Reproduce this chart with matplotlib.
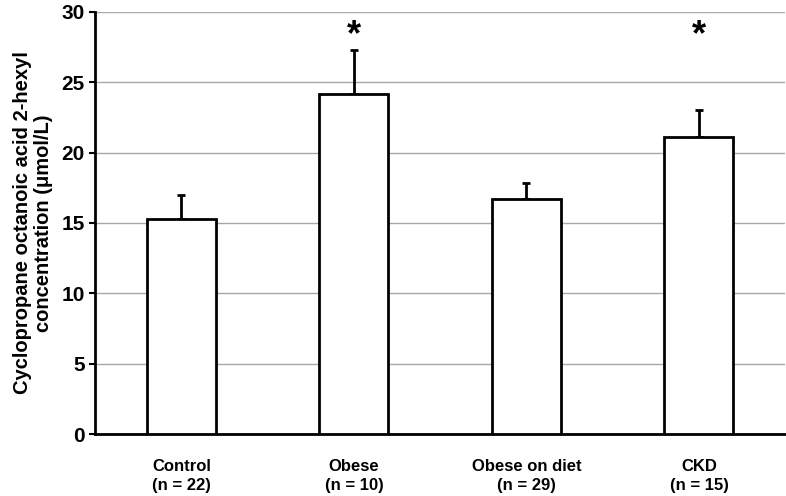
import numpy as np
import matplotlib
matplotlib.use("Agg")
from matplotlib import pyplot as plt

plt.rcParams['font.family'] = ['Liberation Sans', 'DejaVu Sans']

groups = ["Control\n(n = 22)", "Obese\n(n = 10)", "Obese on diet\n(n = 29)", "CKD\n(n = 15)"]
means = [15.3, 24.2, 16.7, 21.1]
upper_err = [1.7, 3.1, 1.15, 1.9]
significant = [False, True, False, True]

fig = plt.figure(figsize=(7.86, 4.96), dpi=100)
ax = fig.add_axes([0.121, 0.125, 0.878, 0.851])

x = np.arange(len(groups)) + 0.5
ax.bar(x, means, width=0.4, color="white", edgecolor="black", linewidth=2, zorder=3)
ax.errorbar(x, means, yerr=[np.zeros(len(means)), upper_err], fmt="none",
            ecolor="black", elinewidth=2, capsize=3, capthick=2, zorder=2)

# significance markers
for xi, s in zip(x, significant):
    if s:
        ax.text(xi, 27.1, "*", ha="center", va="bottom", fontsize=26, fontweight="bold")

ax.set_xlim(0, 4)
ax.set_ylim(0, 30)
ax.set_yticks(range(0, 31, 5))
ax.yaxis.grid(True, color="#a8a8a8", linewidth=1, zorder=0)
ax.set_axisbelow(True)

ax.set_xticks(x)
ax.set_xticklabels(groups, fontsize=12, fontweight="bold", linespacing=1.3)
ax.tick_params(axis="x", length=0, pad=18)
ax.tick_params(axis="y", labelsize=15, width=1.5, length=4, direction="out")
for lbl in ax.get_yticklabels():
    lbl.set_fontweight("bold")

ax.set_ylabel("Cyclopropane octanoic acid 2-hexyl\nconcentration (\u03bcmol/L)",
              fontsize=14.5, fontweight="bold", labelpad=6, linespacing=1.15)

for side in ["top", "right"]:
    ax.spines[side].set_visible(False)
ax.spines["left"].set_linewidth(2)
ax.spines["bottom"].set_linewidth(2)

fig.savefig("out.png", dpi=100)
